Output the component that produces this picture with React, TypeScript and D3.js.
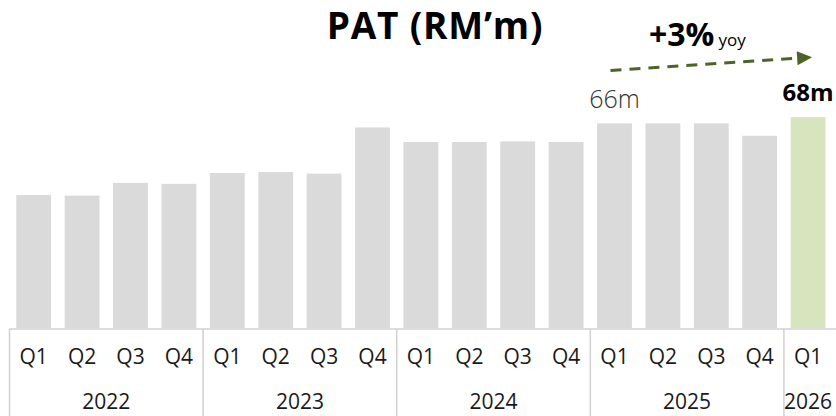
import * as d3 from 'd3';
import React from 'react';

const width = 836;
const height = 416;
const margin = { top: 111, left: 9.5, right: 3.7, baseline: 328 };
const grey = '#dadada';
const green = '#d7e4bd';
const olive = '#4f6228';
const lineColor = '#d0d0d0';
const font = '"Open Sans", Lato, sans-serif';

const years = ['2022', '2022', '2022', '2022', '2023', '2023', '2023', '2023', '2024', '2024', '2024', '2024', '2025', '2025', '2025', '2025', '2026'];
const quarters = ['Q1', 'Q2', 'Q3', 'Q4', 'Q1', 'Q2', 'Q3', 'Q4', 'Q1', 'Q2', 'Q3', 'Q4', 'Q1', 'Q2', 'Q3', 'Q4', 'Q1'];
const pat = [42.9, 42.7, 46.8, 46.5, 50.0, 50.3, 49.8, 64.7, 60.0, 60.0, 60.2, 60.0, 66.0, 66.0, 66.0, 62.0, 68.0];
const yearLabels = ['2022', '2023', '2024', '2025', '2026'];

const keys = years.map((y, i) => `${y} ${quarters[i]}`);

export default function App() {
  const x = d3
    .scaleBand()
    .domain(keys)
    .range([margin.left, width - margin.right])
    .paddingInner(0.28)
    .paddingOuter(0.14);
  const y = d3.scaleLinear().domain([0, 70]).range([margin.baseline, margin.baseline - 70 * 3.1]);

  const step = x.step();
  const half = step * 0.28 / 2; // gap half between bands
  const groupStart = (yr) => x(keys[years.indexOf(yr)]) - half;
  const groupEnd = (yr) => x(keys[years.lastIndexOf(yr)]) + x.bandwidth() + half;

  // growth arrow from 2025 Q1 to 2026 Q1
  const fromKey = keys[12];
  const toKey = keys[16];
  const x0 = x(fromKey) + x.bandwidth() / 2 - 4;
  const x1 = x(toKey) + x.bandwidth() / 2 + 4;
  const y0 = y(pat[12]) - 53;
  const y1 = y(pat[16]) - 60;
  const ang = Math.atan2(y1 - y0, x1 - x0);
  const head = 15;
  const bx = x1 - head * Math.cos(ang);
  const by = y1 - head * Math.sin(ang);
  const hw = 7;
  const headPts = [
    [x1, y1],
    [bx - hw * Math.sin(ang), by + hw * Math.cos(ang)],
    [bx + hw * Math.sin(ang), by - hw * Math.cos(ang)]
  ];

  return (
    <svg width={width} height={height} style={{ position: 'absolute', left: 0, top: 0 }} fontFamily={font}>
      <text x={435} y={39} textAnchor="middle" fontSize={37} fontWeight="bold" fill="#000" letterSpacing={0.8}>
        PAT (RM’m)
      </text>

      {pat.map((v, i) => (
        <rect
          key={keys[i]}
          x={x(keys[i])}
          y={y(v)}
          width={x.bandwidth()}
          height={y(0) - y(v)}
          fill={years[i] === '2026' ? green : grey}
        />
      ))}

      {/* category box */}
      <line x1={margin.left} x2={width} y1={margin.baseline + 1} y2={margin.baseline + 1} stroke={lineColor} strokeWidth={1.5} />
      {yearLabels.map((yr) => (
        <line key={yr} x1={groupStart(yr)} x2={groupStart(yr)} y1={margin.baseline + 1} y2={height} stroke={lineColor} strokeWidth={1.5} />
      ))}
      {quarters.map((q, i) => (
        <text key={keys[i]} x={x(keys[i]) + x.bandwidth() / 2} y={364} textAnchor="middle" fontSize={21} fill="#1a1a1a">
          {q}
        </text>
      ))}
      {yearLabels.map((yr) => (
        <text key={yr} x={(groupStart(yr) + Math.min(groupEnd(yr), width)) / 2} y={409} textAnchor="middle" fontSize={21} fill="#1a1a1a">
          {yr}
        </text>
      ))}

      {/* growth annotation */}
      <line x1={x0} y1={y0} x2={bx} y2={by} stroke={olive} strokeWidth={3} strokeDasharray="11 8" />
      <polygon points={headPts.map((p) => p.join(',')).join(' ')} fill={olive} />
      <text x={649} y={46} fontSize={32} fontWeight="bold" fill="#000">
        +3%
        <tspan fontSize={17} fontWeight="normal" dx={4}>yoy</tspan>
      </text>
      <text x={x(fromKey) + x.bandwidth() / 2} y={y(pat[12]) - 15} textAnchor="middle" fontSize={25} fill="#333" fontWeight="300">
        {`${Math.round(pat[12])}m`}
      </text>
      <text x={x(toKey) + x.bandwidth() / 2} y={y(pat[16]) - 16} textAnchor="middle" fontSize={24} fontWeight="bold" fill="#000">
        {`${Math.round(pat[16])}m`}
      </text>
    </svg>
  );
}
